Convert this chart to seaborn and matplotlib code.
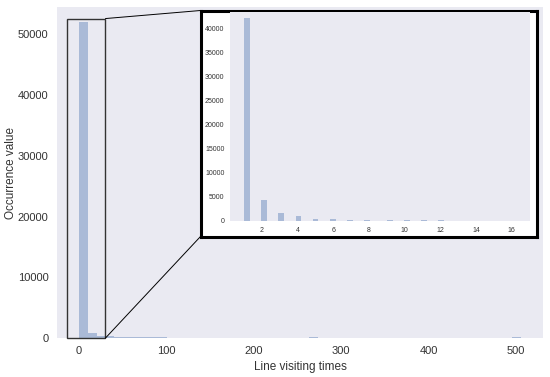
import matplotlib
matplotlib.use("Agg")
import matplotlib.pyplot as plt
import numpy as np
import seaborn as sns
from matplotlib.patches import ConnectionPatch, Rectangle

# main histogram: representative visit counts per bin and their occurrences
main_visits = [5, 15, 25, 35, 45, 55, 65, 75, 85, 95, 105, 115, 125, 135,
               145, 155, 165, 175, 185, 195, 205, 215, 268, 500]
main_counts = [52000, 800, 400, 250, 180, 150, 130, 110, 100, 90, 80, 80,
               70, 70, 60, 60, 60, 50, 50, 50, 40, 40, 120, 110]

# zoomed inset: occurrences for 1..16 visits
inset_visits = [1, 2, 3, 4, 5, 6, 7, 8, 9, 10, 11, 12, 13, 14, 15, 16]
inset_counts = [42200, 4450, 1750, 950, 500, 380, 260, 190, 170, 130, 110,
                120, 50, 40, 30, 25]

inset_xticks = [2, 4, 6, 8, 10, 12, 14, 16]
inset_yticks = [0, 5000, 10000, 15000, 20000, 25000, 30000, 35000, 40000]
main_xticks = [0, 100, 200, 300, 400, 500]
main_yticks = [0, 10000, 20000, 30000, 40000, 50000]

sns.set_style("dark")
plt.rcParams["font.family"] = ["Liberation Sans", "DejaVu Sans"]

bar_color = sns.color_palette("deep")[0]

fig = plt.figure(figsize=(5.5, 3.77), dpi=100)
ax = fig.add_axes([0.1036, 0.1034, 0.8836, 0.878])

sns.histplot(x=main_visits, weights=main_counts, bins=50, binrange=(0, 506),
             color=bar_color, alpha=0.4, linewidth=0, ax=ax)
ax.set_xlim(-25, 531)
ax.set_ylim(0, 54500)
ax.set_xticks(main_xticks)
ax.set_yticks(main_yticks)
ax.tick_params(length=0, labelsize=8, pad=6, colors="#333333")
ax.set_xlabel("Line visiting times", fontsize=8.5, color="#333333", labelpad=3)
ax.set_ylabel("Occurrence value", fontsize=8.5, color="#333333", labelpad=1)
for s in ax.spines.values():
    s.set_visible(False)

# zoom region marker
zx0, zx1, zy1 = -13, 30.5, 52600
ax.add_patch(Rectangle((zx0, 0), zx1 - zx0, zy1, fill=False,
                       edgecolor="#333333", linewidth=1.0, zorder=5,
                       clip_on=False))

# white frame with thick black border around inset
frame = fig.add_axes([200.5 / 550, 1 - 236.5 / 377, 336 / 550, 226 / 377])
frame.set_facecolor("white")
frame.set_xticks([])
frame.set_yticks([])
for s in frame.spines.values():
    s.set_visible(True)
    s.set_color("black")
    s.set_linewidth(2.2)

ins = fig.add_axes([230 / 550, 1 - 221 / 377, 300 / 550, 208.7 / 377])
sns.histplot(x=inset_visits, weights=inset_counts, bins=50, binrange=(1, 17),
             color=bar_color, alpha=0.4, linewidth=0, ax=ins)
ins.set_xlim(0.2, 17.03)
ins.set_ylim(0, 43400)
ins.set_xticks(inset_xticks)
ins.set_yticks(inset_yticks)
ins.tick_params(length=0, labelsize=5, pad=4, colors="#333333")
ins.set_xlabel("")
ins.set_ylabel("")
for s in ins.spines.values():
    s.set_visible(False)

# connector lines from marker to frame
for ya, yb in [(zy1, 1), (0, 0)]:
    con = ConnectionPatch(xyA=(zx1, ya), coordsA=ax.transData,
                          xyB=(0, yb), coordsB=frame.transAxes,
                          color="black", linewidth=0.7)
    fig.add_artist(con)

fig.savefig("out.png", dpi=100)
